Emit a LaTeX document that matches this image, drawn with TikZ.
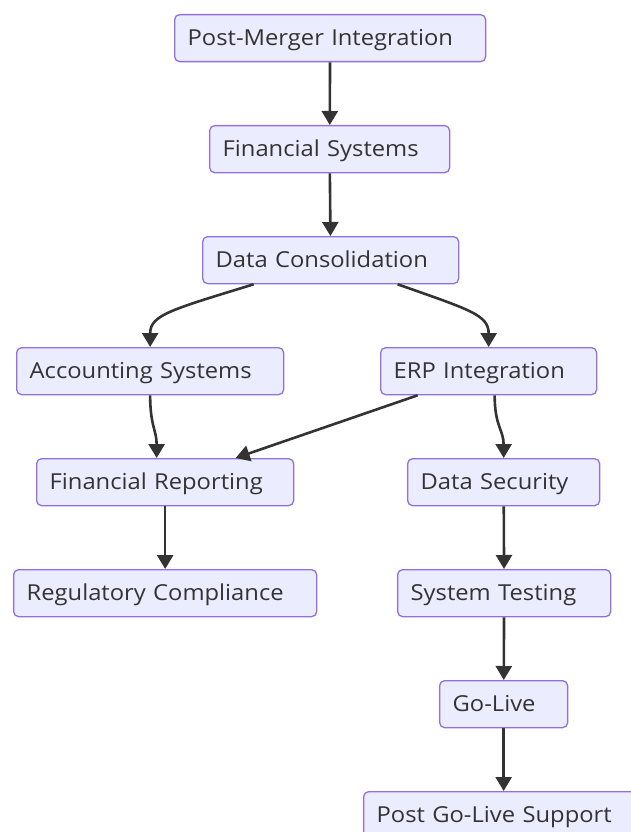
\documentclass[tikz,border=0pt]{standalone}
\usepackage{fontspec}
\setmainfont{Open Sans}[FakeStretch=1.08]
\usetikzlibrary{arrows.meta}
\usetikzlibrary{calc}

\definecolor{nodefill}{HTML}{ECECFF}
\definecolor{nodeline}{HTML}{9370DB}
\definecolor{linkgray}{HTML}{333333}

\begin{document}
\begin{tikzpicture}[x=1pt, y=-1pt,
  box/.style={draw=nodeline, fill=nodefill, line width=1.3pt, rounded corners=5pt,
    anchor=north west, minimum height=47pt, inner xsep=13pt, align=left,
    text=linkgray, text height=15.5pt, text depth=0pt,
    font=\fontsize{22}{26}\selectfont},
  link/.style={draw=linkgray, line width=2.6pt, -{Triangle[length=14pt,width=16pt]}}]

\useasboundingbox (0,0) rectangle (630,832);
\fill[white] (0,0) rectangle (630,832);

\node[box, text width=285pt] (pmi) at (174,14) {Post-Merger Integration};
\node[box, text width=214pt] (fs) at (209,125) {Financial Systems};
\node[box, text width=230pt] (dc) at (202,236) {Data Consolidation};
\node[box, text width=241pt] (acc) at (16,347) {Accounting Systems};
\node[box, text width=190pt] (erp) at (380,347) {ERP Integration};
\node[box, text width=231pt] (frep) at (36,458) {Financial Reporting};
\node[box, text width=166pt] (dsec) at (407,458) {Data Security};
\node[box, text width=277pt] (reg) at (13,569) {Regulatory Compliance};
\node[box, text width=187pt] (test) at (397,569) {System Testing};
\node[box, text width=102pt] (live) at (439,680) {Go-Live};
\node[box, text width=254pt] (support) at (363,791) {Post Go-Live Support};

% straight links
\draw[link] (pmi) -- (fs);
\draw[link] (fs) -- (dc);
\draw[link] (frep) -- (reg);
\draw[link] (dsec) -- (test);
\draw[link] (test) -- (live);
\draw[link] (live) -- (support);
\draw[link] ($(erp.south)+(-71,0)$) -- ($(frep.north)+(70.5,0)$);

% curved links
\draw[link] ($(dc.south)+(-77,0)$) .. controls ($(acc.north)+(20,-37)$) and ($(acc.north)+(0,-32)$) .. (acc.north);
\draw[link] ($(dc.south)+(67,0)$) .. controls ($(erp.north)+(-18,-37)$) and ($(erp.north)+(0,-32)$) .. (erp.north);
\draw[link] (acc.south) .. controls ($(acc.south)+(0,31)$) and ($(frep.north)+(-8.5,-28)$) .. ($(frep.north)+(-8.5,0)$);
\draw[link] ($(erp.south)+(6,0)$) .. controls ($(erp.south)+(6,31)$) and ($(dsec.north)+(0,-28)$) .. (dsec.north);

\end{tikzpicture}
\end{document}
